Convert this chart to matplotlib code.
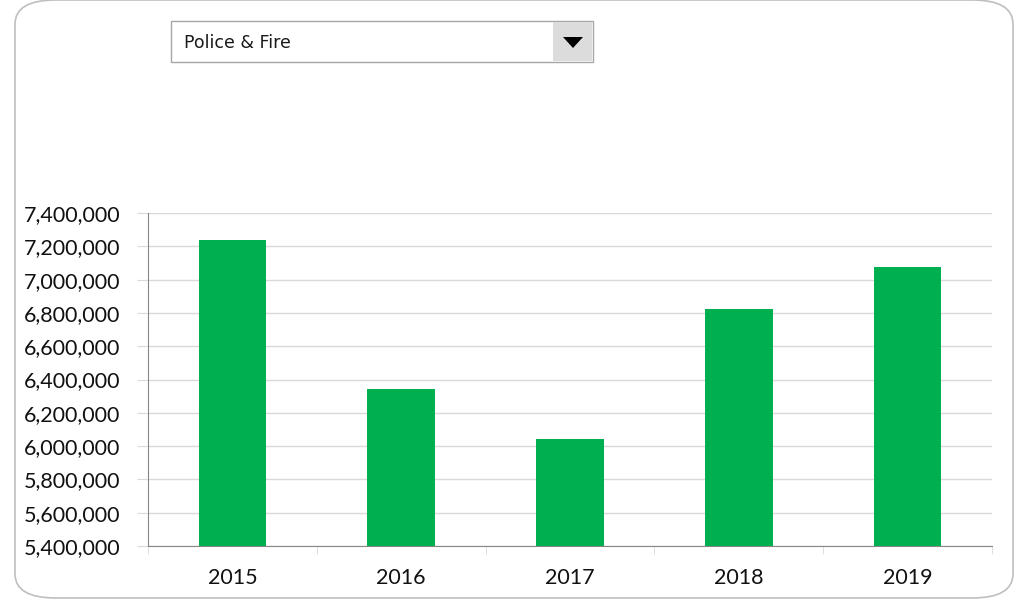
import matplotlib.pyplot as plt
from matplotlib.patches import FancyBboxPatch, Rectangle, Polygon
from matplotlib.ticker import FuncFormatter, FixedLocator

years = ['2015', '2016', '2017', '2018', '2019']
budget = [7238000, 6343000, 6043000, 6823000, 7076000]
selected = 'Police & Fire'

W, H = 1021, 602
plt.rcParams['font.family'] = ['Lato', 'DejaVu Sans']

fig = plt.figure(figsize=(W / 100, H / 100), dpi=100)


def fx(px):
    return px / W


def fy(py):
    return 1 - py / H


# rounded chart border
fig.patches.append(FancyBboxPatch((fx(15), fy(598)), fx(998), (598 - 0) / H,
                                  boxstyle='round,pad=0,rounding_size=0.04',
                                  transform=fig.transFigure, facecolor='none',
                                  edgecolor='#bfbfbf', linewidth=1.2, zorder=0))

# dropdown box
fig.patches.append(Rectangle((fx(171), fy(62)), fx(422), 41 / H, transform=fig.transFigure,
                             facecolor='white', edgecolor='#a6a6a6', linewidth=1))
fig.patches.append(Rectangle((fx(553), fy(61)), fx(39), 39 / H, transform=fig.transFigure,
                             facecolor='#dcdcdc', edgecolor='none'))
fig.patches.append(Polygon([(fx(563), fy(37)), (fx(583), fy(37)), (fx(573), fy(48))],
                           closed=True, transform=fig.transFigure, facecolor='black'))
fig.text(fx(184), fy(43), selected, fontsize=12.5, family=['DejaVu Sans'],
         va='center', ha='left', color='#1a1a1a')

ax = fig.add_axes([fx(148), fy(546), fx(992 - 148), (546 - 213) / H])
ax.set_zorder(2)
ax.patch.set_alpha(0)
x = range(len(years))
ax.bar(x, budget, width=0.4, color='#00B050', zorder=3)

ax.set_xlim(-0.5, len(years) - 0.5)
ax.set_ylim(5400000, 7400000)
ax.set_yticks(range(5400000, 7400001, 200000))
ax.yaxis.set_major_formatter(FuncFormatter(lambda v, p: f'{int(v):,}'))
ax.set_xticks(list(x))
ax.set_xticklabels(years)
ax.xaxis.set_minor_locator(FixedLocator([i - 0.5 for i in range(len(years) + 1)]))

ax.grid(axis='y', color='#d9d9d9', linewidth=1, zorder=0)
for s in ['top', 'right']:
    ax.spines[s].set_visible(False)
ax.spines['left'].set_color('#868686')
ax.spines['bottom'].set_color('#868686')
ax.tick_params(axis='y', length=8, color='#d9d9d9', labelsize=15.5, pad=12, labelcolor='#111111')
ax.tick_params(axis='x', which='major', length=0, labelsize=15.5, pad=16, labelcolor='#111111')
ax.tick_params(axis='x', which='minor', length=6, color='#d9d9d9')

fig.savefig('out.png', dpi=100)
